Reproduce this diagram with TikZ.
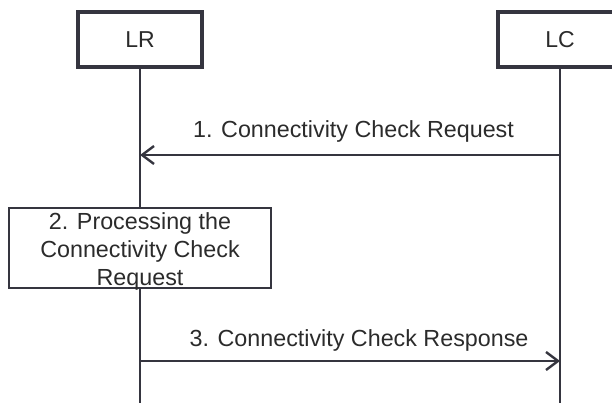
\documentclass[tikz,border=0pt]{standalone}
\usepackage{fontspec}
\setmainfont{Liberation Sans}
\usetikzlibrary{arrows.meta}
\definecolor{ln}{HTML}{35353F}
\definecolor{tx}{HTML}{2B2B2B}
\begin{document}
\begin{tikzpicture}[x=1pt,y=-1pt,
  actor/.style={draw=ln,line width=4pt,fill=white,minimum width=124pt,minimum height=55pt,text=tx,font=\fontsize{23}{27}\selectfont,inner sep=0pt},
  life/.style={draw=ln,line width=2.4pt},
  msg/.style={draw=ln,line width=2.4pt,-{Straight Barb[length=12pt,width=18pt,line width=2.4pt]}},
  lbl/.style={text=tx,font=\fontsize{23.3}{28}\selectfont,inner sep=0pt,anchor=base},
  procbox/.style={draw=ln,line width=1.6pt,fill=white,minimum width=262pt,minimum height=80pt,inner sep=0pt},
  proctext/.style={text=tx,align=center,font=\fontsize{23.3}{28}\selectfont,inner sep=0pt}]
\useasboundingbox (0,0) rectangle (612,403);
\clip (0,0) rectangle (612,403);
\coordinate (LRb) at (140,403);
\coordinate (LCb) at (560,403);
\coordinate (m1s) at (560,155);
\coordinate (m1e) at (140,155);
\coordinate (m3s) at (140,361);
\coordinate (m3e) at (560,361);
\draw[life] (140,69) -- (LRb);
\draw[life] (560,69) -- (LCb);
\node[actor] (LR) at (140,39.5) {\raisebox{-1pt}{LR}};
\node[actor] (LC) at (560,39.5) {\raisebox{-1pt}{LC}};
\draw[msg] (m1s) -- (m1e);
\node[lbl] (L1) at (353.5,138) {1. Connectivity Check Request};
\node[procbox] (P) at (140,248) {};
\node[proctext] (PT) at (140,251) {2. Processing the\\Connectivity Check\\Request};
\draw[msg] (m3s) -- (m3e);
\node[lbl] (L3) at (359,346) {3. Connectivity Check Response};
\end{tikzpicture}
\end{document}
